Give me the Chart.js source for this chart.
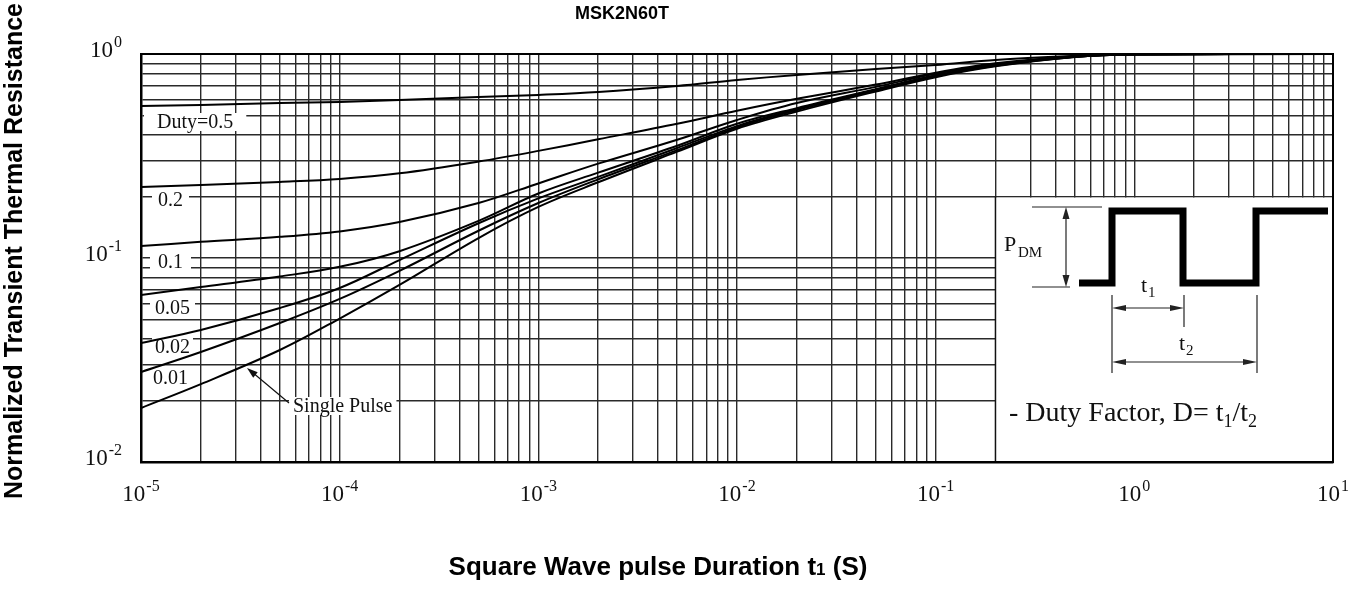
<!DOCTYPE html>
<html>
<head>
<meta charset="utf-8">
<script src="https://cdn.jsdelivr.net/npm/chart.js@4.4.1/dist/chart.umd.min.js"></script>
<style>
  html, body { margin: 0; padding: 0; background: #fff; }
  #wrap { width: 1362px; height: 602px; }
</style>
</head>
<body>
<div id="wrap"><canvas id="chart" width="1362" height="602"></canvas></div>
<script>
// pulse duration t1 (s) where the curves were read
const pulseTimes = [1e-5, 2e-5, 5e-5, 1e-4, 2e-4, 5e-4, 1e-3, 2e-3, 5e-3, 1e-2, 2e-2, 5e-2, 0.1, 0.2, 0.5, 1, 10];

// normalized transient thermal resistance, one list per duty cycle
const duty05 = [0.556, 0.562, 0.575, 0.582, 0.595, 0.615, 0.63, 0.651, 0.697, 0.746, 0.789, 0.844, 0.883, 0.935, 0.978, 1.0, 1.0];
const duty02 = [0.223, 0.228, 0.236, 0.244, 0.26, 0.297, 0.335, 0.382, 0.455, 0.527, 0.603, 0.708, 0.81, 0.9, 0.975, 0.997, 1.0];
const duty01 = [0.1145, 0.12, 0.127, 0.135, 0.15, 0.186, 0.232, 0.29, 0.38, 0.475, 0.575, 0.69, 0.8, 0.89, 0.972, 0.996, 1.0];
const duty005 = [0.0659, 0.072, 0.0812, 0.0905, 0.108, 0.152, 0.207, 0.262, 0.355, 0.455, 0.543, 0.672, 0.788, 0.883, 0.97, 0.995, 1.0];
const duty002 = [0.0383, 0.0444, 0.0569, 0.0713, 0.0977, 0.148, 0.196, 0.25, 0.346, 0.443, 0.537, 0.668, 0.784, 0.88, 0.969, 0.995, 1.0];
const duty001 = [0.0276, 0.0346, 0.048, 0.063, 0.0865, 0.136, 0.186, 0.243, 0.338, 0.437, 0.53, 0.662, 0.778, 0.876, 0.968, 0.995, 1.0];
const singlePulse = [0.0184, 0.0241, 0.0354, 0.0505, 0.0738, 0.1253, 0.178, 0.235, 0.332, 0.43, 0.522, 0.655, 0.77, 0.87, 0.967, 0.994, 1.0];

const seriesNames = ['Duty=0.5', '0.2', '0.1', '0.05', '0.02', '0.01', 'Single Pulse'];
const seriesValues = [duty05, duty02, duty01, duty005, duty002, duty001, singlePulse];

// axis decades (labels are 10^exp)
const xExponents = [-5, -4, -3, -2, -1, 0, 1];
const yExponents = [0, -1, -2];

const chartTitle = 'MSK2N60T';
const xTitle = 'Square Wave pulse Duration t';
const xTitleSub = '1';
const xTitleEnd = ' (S)';
const yTitle = 'Normalized Transient Thermal Resistance';

// grid lines at 1..9 x 10^n
const gridX = [];
for (let e = -5; e <= 0; e++) for (let k = 1; k <= 9; k++) gridX.push(k * Math.pow(10, e));
gridX.push(10);
const gridY = [];
for (let e = -2; e <= -1; e++) for (let k = 1; k <= 9; k++) gridY.push(k * Math.pow(10, e));
gridY.push(1);

const serif = "'Times New Roman', 'Liberation Serif', serif";
const sans = "Arial, 'Liberation Sans', sans-serif";

function arrowHead(ctx, x1, y1, x2, y2, len, half) {
  const ang = Math.atan2(y2 - y1, x2 - x1);
  const c = Math.cos(ang), s = Math.sin(ang);
  ctx.beginPath();
  ctx.moveTo(x2, y2);
  ctx.lineTo(x2 - len * c + half * s, y2 - len * s - half * c);
  ctx.lineTo(x2 - len * c - half * s, y2 - len * s + half * c);
  ctx.closePath();
  ctx.fill();
}

function line(ctx, x1, y1, x2, y2) {
  ctx.beginPath();
  ctx.moveTo(x1, y1);
  ctx.lineTo(x2, y2);
  ctx.stroke();
}

function powerLabel(ctx, x, y, exp, align) {
  ctx.font = '23px ' + serif;
  const w10 = ctx.measureText('10').width;
  ctx.font = '16px ' + serif;
  const we = ctx.measureText(String(exp)).width;
  const total = w10 + we + 1;
  let start = align === 'right' ? x - total : x - total / 2;
  ctx.textAlign = 'left';
  ctx.textBaseline = 'alphabetic';
  ctx.font = '23px ' + serif;
  ctx.fillText('10', start, y + 8);
  ctx.font = '16px ' + serif;
  ctx.fillText(String(exp), start + w10 + 1, y - 2);
}

// text with its white patch, so the grid breaks round it
function patchLabel(ctx, text, x, y, pad) {
  ctx.font = '20px ' + serif;
  const w = ctx.measureText(text).width;
  ctx.fillStyle = '#fff';
  ctx.fillRect(x - pad, y - 9, w + pad * 2, 18);
  ctx.fillStyle = '#111';
  ctx.textAlign = 'left';
  ctx.textBaseline = 'middle';
  ctx.fillText(text, x, y + 1);
}

const decorations = {
  id: 'decorations',
  beforeDatasetsDraw(chart) {
    const { ctx, chartArea: a, scales } = chart;
    const xs = scales.x, ys = scales.y;
    ctx.save();

    // curve labels
    patchLabel(ctx, seriesNames[0], 157, 122, 13);
    patchLabel(ctx, seriesNames[1], 158, 200, 6);
    patchLabel(ctx, seriesNames[2], 158, 262, 8);
    patchLabel(ctx, seriesNames[3], 155, 308, 5);
    patchLabel(ctx, seriesNames[4], 155, 347, 3);
    patchLabel(ctx, seriesNames[5], 153, 378, 3);
    patchLabel(ctx, seriesNames[6], 293, 406, 4);
    ctx.strokeStyle = '#111';
    ctx.fillStyle = '#111';
    ctx.lineWidth = 1.2;
    line(ctx, 289, 403, 252, 372);
    arrowHead(ctx, 289, 403, 247, 368, 11, 3.5);

    // inset panel with the duty factor sketch
    const ix = xs.getPixelForValue(0.2);
    const iy = ys.getPixelForValue(0.2);
    ctx.fillStyle = '#fff';
    ctx.fillRect(ix, iy + 1, a.right - ix, a.bottom - iy - 1);
    ctx.strokeStyle = '#111';
    ctx.lineWidth = 1.5;
    line(ctx, ix, iy, ix, a.bottom);

    ctx.lineWidth = 7;
    ctx.lineJoin = 'miter';
    ctx.strokeStyle = '#000';
    ctx.beginPath();
    ctx.moveTo(1079, 283);
    ctx.lineTo(1112, 283);
    ctx.lineTo(1112, 211);
    ctx.lineTo(1183, 211);
    ctx.lineTo(1183, 283);
    ctx.lineTo(1256, 283);
    ctx.lineTo(1256, 211);
    ctx.lineTo(1328, 211);
    ctx.stroke();

    ctx.lineWidth = 1.2;
    ctx.strokeStyle = '#222';
    ctx.fillStyle = '#222';
    line(ctx, 1032, 207, 1102, 207);
    line(ctx, 1032, 287, 1070, 287);
    line(ctx, 1066, 215, 1066, 279);
    arrowHead(ctx, 1066, 240, 1066, 207, 12, 3.5);
    arrowHead(ctx, 1066, 250, 1066, 287, 12, 3.5);

    line(ctx, 1112, 295, 1112, 373);
    line(ctx, 1184, 295, 1184, 327);
    line(ctx, 1257, 295, 1257, 373);
    line(ctx, 1120, 308, 1176, 308);
    arrowHead(ctx, 1140, 308, 1112, 308, 14, 3);
    arrowHead(ctx, 1150, 308, 1184, 308, 14, 3);
    line(ctx, 1120, 362, 1249, 362);
    arrowHead(ctx, 1180, 362, 1112, 362, 14, 3);
    arrowHead(ctx, 1190, 362, 1257, 362, 14, 3);

    ctx.fillStyle = '#111';
    ctx.textAlign = 'left';
    ctx.textBaseline = 'alphabetic';
    ctx.font = '22px ' + serif;
    ctx.fillText('P', 1004, 251);
    ctx.font = '15px ' + serif;
    ctx.fillText('DM', 1018, 257);
    ctx.font = '22px ' + serif;
    ctx.fillText('t', 1141, 292);
    ctx.fillText('t', 1179, 350);
    ctx.font = '15px ' + serif;
    ctx.fillText('1', 1148, 297);
    ctx.fillText('2', 1186, 355);

    let x0 = 1009;
    ctx.font = '28px ' + serif;
    ctx.fillText('- Duty Factor, D= t', x0, 421);
    x0 += ctx.measureText('- Duty Factor, D= t').width;
    ctx.font = '18px ' + serif;
    ctx.fillText('1', x0, 427);
    x0 += ctx.measureText('1').width;
    ctx.font = '28px ' + serif;
    ctx.fillText('/t', x0, 421);
    x0 += ctx.measureText('/t').width;
    ctx.font = '18px ' + serif;
    ctx.fillText('2', x0, 427);
    ctx.restore();
  },
  afterDraw(chart) {
    const { ctx, chartArea: a, scales } = chart;
    ctx.save();
    ctx.strokeStyle = '#000';
    ctx.lineWidth = 2;
    ctx.strokeRect(a.left, a.top, a.right - a.left, a.bottom - a.top);

    ctx.fillStyle = '#111';
    xExponents.forEach(e => powerLabel(ctx, scales.x.getPixelForValue(Math.pow(10, e)), 493, e, 'center'));
    yExponents.forEach(e => powerLabel(ctx, 122, scales.y.getPixelForValue(Math.pow(10, e)) - 5, e, 'right'));

    ctx.fillStyle = '#000';
    ctx.textAlign = 'center';
    ctx.textBaseline = 'middle';
    ctx.font = 'bold 18px ' + sans;
    ctx.fillText(chartTitle, 622, 14);

    // x title with the small "1"
    ctx.textAlign = 'left';
    ctx.textBaseline = 'alphabetic';
    ctx.font = 'bold 26px ' + sans;
    const w1 = ctx.measureText(xTitle).width;
    const w3 = ctx.measureText(xTitleEnd).width;
    ctx.font = 'bold 17px ' + sans;
    const w2 = ctx.measureText(xTitleSub).width;
    let xs0 = 658 - (w1 + w2 + w3) / 2;
    ctx.font = 'bold 26px ' + sans;
    ctx.fillText(xTitle, xs0, 575);
    ctx.font = 'bold 17px ' + sans;
    ctx.fillText(xTitleSub, xs0 + w1, 575);
    ctx.font = 'bold 26px ' + sans;
    ctx.fillText(xTitleEnd, xs0 + w1 + w2, 575);

    ctx.translate(15, 251);
    ctx.rotate(-Math.PI / 2);
    ctx.textAlign = 'center';
    ctx.textBaseline = 'middle';
    ctx.font = 'bold 25px ' + sans;
    ctx.fillText(yTitle, 0, 0);
    ctx.restore();
  }
};

const ctx = document.getElementById('chart').getContext('2d');
new Chart(ctx, {
  type: 'line',
  data: {
    datasets: seriesValues.map((vals, i) => ({
      label: seriesNames[i],
      data: pulseTimes.map((t, j) => ({ x: t, y: vals[j] })),
      borderColor: '#000',
      borderWidth: 2,
      pointRadius: 0,
      fill: false,
      tension: 0.35
    }))
  },
  options: {
    responsive: false,
    animation: false,
    devicePixelRatio: 1,
    layout: { padding: { left: 141, top: 54, right: 29, bottom: 140 } },
    plugins: { legend: { display: false }, tooltip: { enabled: false } },
    scales: {
      x: {
        type: 'logarithmic',
        min: 1e-5,
        max: 10,
        afterBuildTicks: s => { s.ticks = gridX.map(v => ({ value: v })); },
        ticks: { display: false, autoSkip: false },
        grid: { color: '#2a2a2a', lineWidth: 1.4, drawTicks: false },
        border: { display: true, color: '#000', width: 2.5 }
      },
      y: {
        type: 'logarithmic',
        min: 0.01,
        max: 1,
        afterBuildTicks: s => { s.ticks = gridY.map(v => ({ value: v })); },
        ticks: { display: false, autoSkip: false },
        grid: { color: '#2a2a2a', lineWidth: 1.4, drawTicks: false },
        border: { display: true, color: '#000', width: 2.5 }
      }
    }
  },
  plugins: [decorations]
});
</script>
</body>
</html>
